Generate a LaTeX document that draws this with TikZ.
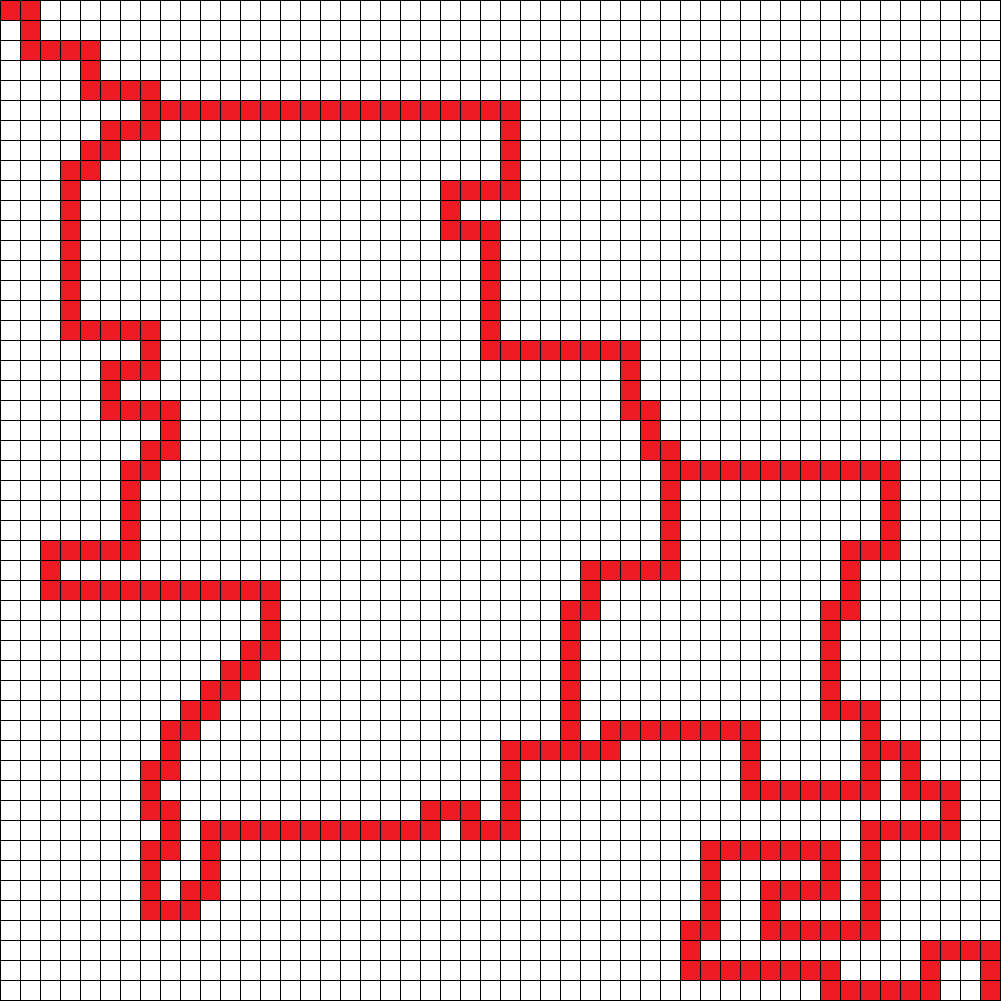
\documentclass[tikz,border=0pt]{standalone}
\definecolor{cellred}{RGB}{237,28,36}
\tikzset{
  redcell/.style={fill=cellred},
  gridline/.style={draw=black,line width=0.025cm,line cap=rect}
}
\begin{document}
\begin{tikzpicture}[x=0.5cm,y=-0.5cm]
\useasboundingbox (-0.025,-0.025) rectangle (50.025,50.025);
\fill[white] (-0.025,-0.025) rectangle (50.025,50.025);
\foreach \r/\a/\b in {
0/0/1, 1/1/1, 2/1/4, 3/4/4, 4/4/7, 5/7/25,
6/5/7, 6/25/25,
7/4/5, 7/25/25,
8/3/4, 8/25/25,
9/3/3, 9/22/25,
10/3/3, 10/22/22,
11/3/3, 11/22/24,
12/3/3, 12/24/24,
13/3/3, 13/24/24,
14/3/3, 14/24/24,
15/3/3, 15/24/24,
16/3/7, 16/24/24,
17/7/7, 17/24/31,
18/5/7, 18/31/31,
19/5/5, 19/31/31,
20/5/8, 20/31/32,
21/8/8, 21/32/32,
22/7/8, 22/32/33,
23/6/7, 23/33/44,
24/6/6, 24/33/33, 24/44/44,
25/6/6, 25/33/33, 25/44/44,
26/6/6, 26/33/33, 26/44/44,
27/2/6, 27/33/33, 27/42/44,
28/2/2, 28/29/33, 28/42/42,
29/2/13, 29/29/29, 29/42/42,
30/13/13, 30/28/29, 30/41/42,
31/13/13, 31/28/28, 31/41/41,
32/12/13, 32/28/28, 32/41/41,
33/11/12, 33/28/28, 33/41/41,
34/10/11, 34/28/28, 34/41/41,
35/9/10, 35/28/28, 35/41/43,
36/8/9, 36/28/28, 36/30/37, 36/43/43,
37/8/8, 37/25/30, 37/37/37, 37/43/45,
38/7/8, 38/25/25, 38/37/37, 38/43/43, 38/45/45,
39/7/7, 39/25/25, 39/37/43, 39/45/47,
40/7/8, 40/21/23, 40/25/25, 40/47/47,
41/8/8, 41/10/21, 41/23/25, 41/43/47,
42/7/8, 42/10/10, 42/35/41, 42/43/43,
43/7/7, 43/10/10, 43/35/35, 43/41/41, 43/43/43,
44/7/7, 44/9/10, 44/35/35, 44/38/41, 44/43/43,
45/7/9, 45/35/35, 45/38/38, 45/43/43,
46/34/35, 46/38/43,
47/34/34, 47/46/49,
48/34/41, 48/46/46, 48/49/49,
49/41/46, 49/49/49}
{
  \pgfmathtruncatemacro{\bb}{\b+1}
  \pgfmathtruncatemacro{\rr}{\r+1}
  \fill[redcell] (\a,\r) rectangle (\bb,\rr);
}
\foreach \i in {0,...,50} {
  \draw[gridline] (\i,0) -- (\i,50);
  \draw[gridline] (0,\i) -- (50,\i);
}
\end{tikzpicture}
\end{document}
